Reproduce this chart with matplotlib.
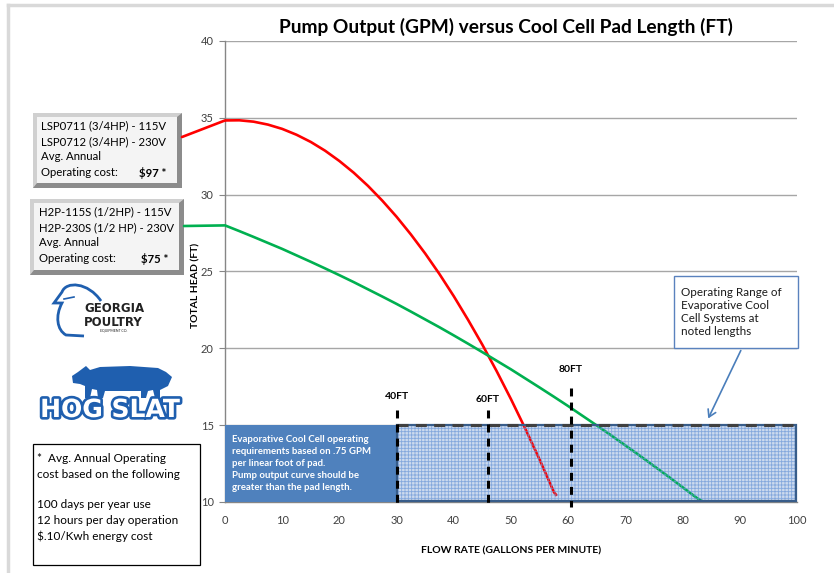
import matplotlib
matplotlib.use("Agg")
import matplotlib.pyplot as plt
from matplotlib.patches import Rectangle, Polygon, PathPatch, FancyArrowPatch, ConnectionPatch
from matplotlib.path import Path
from matplotlib.lines import Line2D
import matplotlib.patheffects as pe

# ---------------- data ----------------
red_x = [0, 2.5, 5, 7.5, 10, 12.5, 15, 17.5, 20, 22.5, 25, 27.5, 30, 32.5, 35, 37.5, 40,
         42.5, 45, 47.5, 50, 52.5, 55, 57.5, 58]
red_y = [34.83, 34.84, 34.75, 34.56, 34.28, 33.90, 33.43, 32.86, 32.19, 31.43, 30.57, 29.61,
         28.56, 27.41, 26.17, 24.83, 23.39, 21.85, 20.23, 18.51, 16.69, 14.77, 12.76, 10.65, 10.4]
green_x = [0, 2.5, 5, 7.5, 10, 12.5, 15, 17.5, 20, 22.5, 25, 27.5, 30, 32.5, 35, 37.5, 40,
           42.5, 45, 47.5, 50, 52.5, 55, 57.5, 60, 62.5, 65, 67.5, 70, 72.5, 75, 77.5, 80,
           82.5, 83.7]
green_y = [28.0, 27.63, 27.25, 26.86, 26.47, 26.05, 25.63, 25.20, 24.76, 24.31, 23.84, 23.37,
           22.89, 22.39, 21.88, 21.37, 20.84, 20.30, 19.75, 19.19, 18.63, 18.04, 17.45, 16.85,
           16.24, 15.61, 14.98, 14.34, 13.68, 13.02, 12.34, 11.66, 10.96, 10.26, 10.0]
pad_labels = ["40FT", "60FT", "80FT"]
pad_flow = [30, 46, 60.5]
pad_line_top = [16.0, 16.0, 17.4]
pad_label_y = [16.85, 16.65, 18.65]
req_region = [0, 30]      # solid explanatory band (x range)
range_region = [30, 100]  # operating range (x range)
band_y = [10, 15]
x_ticks = [0, 10, 20, 30, 40, 50, 60, 70, 80, 90, 100]
y_ticks = [10, 15, 20, 25, 30, 35, 40]

W, H = 834, 573
FONT = ["Lato", "DejaVu Sans"]
plt.rcParams["font.family"] = FONT
plt.rcParams["hatch.linewidth"] = 0.6

fig = plt.figure(figsize=(W / 100, H / 100), dpi=100)


def fx(x):
    return x / W


def fy(y):
    return 1 - y / H


# chart frame (light gray)
fig.add_artist(Line2D([fx(8), fx(8)], [fy(5), fy(573)], color="#D9D9D9", lw=2.5))
fig.add_artist(Line2D([fx(8), fx(834)], [fy(5), fy(5)], color="#D9D9D9", lw=2.5))

ax = fig.add_axes([fx(225), fy(502), (797 - 225) / W, (502 - 41) / H])
ax.set_xlim(0, 100)
ax.set_ylim(10, 40)
ax.set_xticks(x_ticks)
ax.set_yticks(y_ticks)
ax.tick_params(axis="x", length=0, labelsize=8, pad=9, colors="#404040")
ax.tick_params(axis="y", length=4, width=0.8, color="#868686", labelsize=8, pad=4,
               labelcolor="#404040")
for s in ["top", "right"]:
    ax.spines[s].set_visible(False)
ax.spines["left"].set_color("#868686")
ax.spines["bottom"].set_color("#868686")
ax.spines["left"].set_linewidth(1.0)
ax.spines["bottom"].set_linewidth(1.0)
ax.yaxis.grid(True, color="#A6A6A6", lw=1.0)
ax.set_axisbelow(True)

ax.set_xlabel("FLOW RATE (GALLONS PER MINUTE)", fontsize=7.5, fontweight="bold", labelpad=15)
ax.set_ylabel("TOTAL HEAD (FT)", fontsize=7.5, fontweight="bold", labelpad=2)
ax.yaxis.set_label_coords(-0.043, 0.47)

fig.text(fx(506), fy(27), "Pump Output (GPM) versus Cool Cell Pad Length (FT)",
         fontsize=13.8, fontweight="bold", ha="center", va="center", color="black")

# light fill of operating range (under the curves)
rx, rw = range_region[0], range_region[1] - range_region[0]
ax.add_patch(Rectangle((rx, band_y[0]), rw, band_y[1] - band_y[0],
                       facecolor="#CCDAEE", edgecolor="none", zorder=2))

# curves
ax.plot(red_x, red_y, color="#FF0000", lw=1.9, zorder=3, solid_capstyle="butt")
ax.plot(green_x, green_y, color="#00B050", lw=1.9, zorder=3, solid_capstyle="butt")

# solid explanatory band
ax.add_patch(Rectangle((req_region[0], band_y[0]), req_region[1] - req_region[0],
                       band_y[1] - band_y[0], facecolor="#4F81BD", edgecolor="none",
                       zorder=4, clip_on=False))
ax.text(req_region[0] + 1.3, 12.5,
        "Evaporative Cool Cell operating\nrequirements based on .75 GPM\nper linear foot of pad.\n"
        "Pump output curve should be\ngreater than the pad length.",
        color="white", fontsize=6.9, fontweight="bold", ha="left", va="center",
        linespacing=1.42, zorder=6)

# hatch pattern over the operating range
ax.add_patch(Rectangle((rx, band_y[0]), rw, band_y[1] - band_y[0],
                       facecolor="none", edgecolor=(0.40, 0.58, 0.84, 0.7), lw=0,
                       hatch="+++++", zorder=4.5))
ax.add_patch(Rectangle((rx, band_y[0] + 0.08), rw - 0.15, band_y[1] - band_y[0] - 0.08,
                       facecolor="none", edgecolor="#385D8A", lw=1.6, zorder=5, clip_on=False))
ax.plot([rx, range_region[1]], [band_y[1], band_y[1]], color="#404040", lw=2.2,
        ls=(0, (3.6, 2.4)), zorder=5.5, clip_on=False)

# pad-length markers
for lab, xv, top, ly in zip(pad_labels, pad_flow, pad_line_top, pad_label_y):
    ax.plot([xv, xv], [top, 9.7], color="black", lw=2.2, ls=(0, (2.6, 2.0)),
            zorder=6, clip_on=False)
    ax.text(xv, ly, lab, fontsize=7.5, fontweight="bold", ha="center", va="center",
            color="black", zorder=6)

# annotation box
fig.text(fx(681), fy(312), "Operating Range of\nEvaporative Cool\nCell Systems at\nnoted lengths",
         fontsize=8.4, ha="left", va="center", color="#1A1A1A", linespacing=1.2)
fig.add_artist(Rectangle((fx(674), fy(348)), (798 - 674) / W, (348 - 276) / H,
                         transform=fig.transFigure, facecolor="white", edgecolor="#5A82BE",
                         lw=1.0, zorder=0.5))
fig.add_artist(FancyArrowPatch((fx(742), fy(348)), (fx(707), fy(421)),
                               transform=fig.transFigure, arrowstyle="->,head_length=5,head_width=3",
                               color="#4A7EBB", lw=1.2, mutation_scale=1))


# beveled info boxes
def bevel_box(x0, y0, x1, y1):
    fig.add_artist(Rectangle((fx(x0), fy(y1)), (x1 - x0) / W, (y1 - y0) / H,
                             transform=fig.transFigure, facecolor="#8C8C8C", edgecolor="none"))
    fig.add_artist(Polygon([(fx(x0), fy(y0)), (fx(x1), fy(y0)), (fx(x1 - 5), fy(y0 + 4)),
                            (fx(x0 + 4), fy(y0 + 4)), (fx(x0 + 4), fy(y1 - 5)), (fx(x0), fy(y1))],
                           closed=True, transform=fig.transFigure, facecolor="#D0D0D0",
                           edgecolor="none"))
    fig.add_artist(Rectangle((fx(x0 + 4), fy(y1 - 5)), (x1 - x0 - 9) / W, (y1 - y0 - 9) / H,
                             transform=fig.transFigure, facecolor="#F4F4F4", edgecolor="none"))


bevel_box(33, 113, 182, 188)
bevel_box(30, 199, 184, 275)

box1_lines = ["LSP0711 (3/4HP) - 115V", "LSP0712 (3/4HP) - 230V", "Avg. Annual", "Operating cost:"]
box2_lines = ["H2P-115S (1/2HP) - 115V", "H2P-230S (1/2 HP) - 230V", "Avg. Annual", "Operating cost:"]
for t, yy in zip(box1_lines, [126, 142, 157, 173]):
    fig.text(fx(41), fy(yy), t, fontsize=8.2, ha="left", va="center", color="black")
fig.text(fx(166), fy(173), "$97 *", fontsize=8.2, fontweight="bold", ha="right", va="center")
for t, yy in zip(box2_lines, [212, 228, 243, 259]):
    fig.text(fx(39), fy(yy), t, fontsize=8.2, ha="left", va="center", color="black")
fig.text(fx(168), fy(259), "$75 *", fontsize=8.2, fontweight="bold", ha="right", va="center")

# connectors from boxes to curve starts
fig.add_artist(ConnectionPatch(xyA=(fx(182), fy(137)), coordsA=fig.transFigure,
                               xyB=(red_x[0], red_y[0]), coordsB=ax.transData,
                               color="#FF0000", lw=1.9))
fig.add_artist(ConnectionPatch(xyA=(fx(184), fy(226)), coordsA=fig.transFigure,
                               xyB=(green_x[0], green_y[0]), coordsB=ax.transData,
                               color="#00B050", lw=1.9))

# footnote box
fig.add_artist(Rectangle((fx(33), fy(565)), (200 - 33) / W, (565 - 444) / H,
                         transform=fig.transFigure, facecolor="white", edgecolor="black", lw=0.9))
foot = ["*  Avg. Annual Operating", "cost based on the following", "",
        "100 days per year use", "12 hours per day operation", "$.10/Kwh energy cost"]
for t, yy in zip(foot, [458, 475, 490, 505, 521, 536]):
    if t:
        fig.text(fx(37), fy(yy), t, fontsize=8.5, ha="left", va="center", color="black")

# Georgia Poultry logo (simplified)
blue = "#1F5FAF"
bird = Path([(fx(101), fy(301)), (fx(88), fy(282)), (fx(66), fy(281)), (fx(62), fy(292)),
             (fx(54), fy(303)), (fx(62), fy(303)),
             (fx(55), fy(316)), (fx(57), fy(330)), (fx(66), fy(335)), (fx(84), fy(336))],
            [Path.MOVETO, Path.CURVE4, Path.CURVE4, Path.CURVE4, Path.LINETO, Path.LINETO,
             Path.CURVE4, Path.CURVE4, Path.CURVE4, Path.LINETO])
fig.add_artist(PathPatch(bird, transform=fig.transFigure, facecolor="none", edgecolor=blue, lw=2.0))
fig.add_artist(Line2D([fx(64), fx(74)], [fy(299), fy(297)], color=blue, lw=1.2))
fig.text(fx(84), fy(309), "GEORGIA", fontsize=8.5, fontweight="bold", ha="left", va="center",
         family=["Liberation Sans Narrow", "DejaVu Sans"], color="#222222")
fig.text(fx(84), fy(322), "POULTRY", fontsize=8.5, fontweight="bold", ha="left", va="center",
         family=["Liberation Sans Narrow", "DejaVu Sans"], color="#222222")
fig.text(fx(114), fy(331), "EQUIPMENT CO.", fontsize=2.5, ha="center", va="center", color="#222222")

# Hog Slat logo (simplified)
pig = [(72, 376), (78, 372), (86, 366), (90, 370), (100, 367), (130, 366), (158, 368), (166, 372),
       (172, 377), (168, 386), (160, 390), (160, 398), (155, 398), (153, 390), (148, 391), (146, 398),
       (141, 398), (141, 391), (105, 391), (103, 398), (98, 398), (97, 390), (92, 389), (90, 398),
       (85, 398), (85, 386), (80, 384), (73, 383)]
fig.add_artist(Polygon([(fx(a), fy(b)) for a, b in pig], closed=True, transform=fig.transFigure,
                       facecolor=blue, edgecolor="none"))
fig.text(fx(110), fy(410), "HOG SLAT", fontsize=18, fontweight="bold", ha="center", va="center",
         family=["DejaVu Sans"], color="white",
         path_effects=[pe.withStroke(linewidth=3.8, foreground=blue)])

fig.savefig("out.png", dpi=100)
